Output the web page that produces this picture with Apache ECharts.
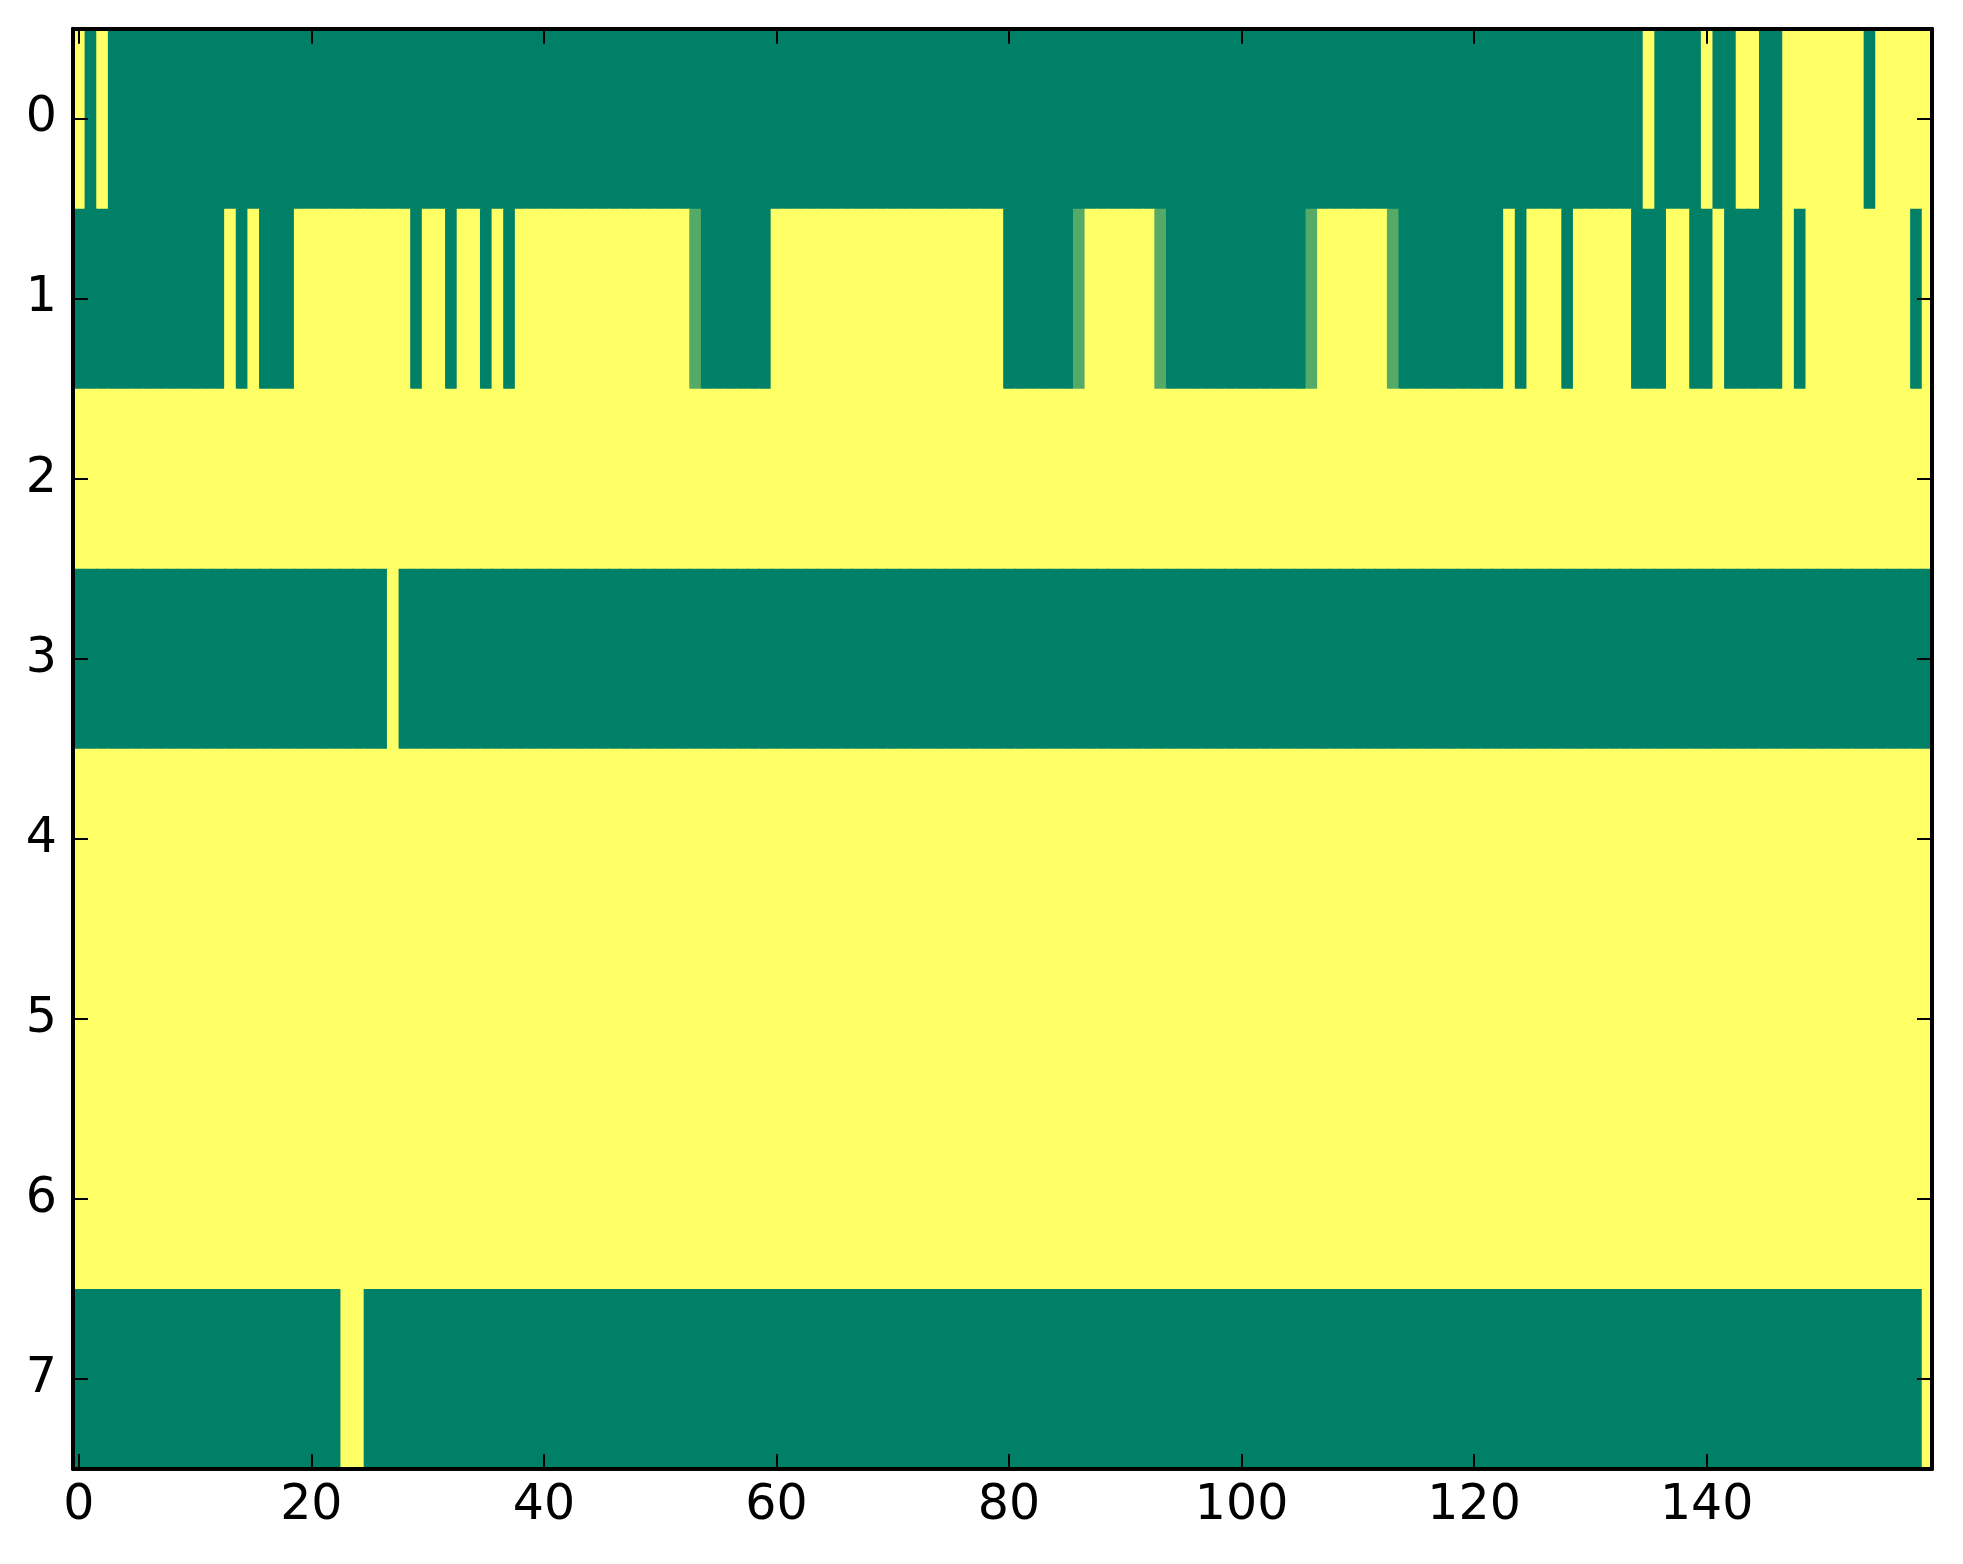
<!DOCTYPE html>
<html>
<head>
<meta charset="utf-8">
<script src="https://cdn.jsdelivr.net/npm/echarts@6/dist/echarts.min.js"></script>
<style>
html,body{margin:0;padding:0;background:#fff;}
#c{width:1963px;height:1564px;}
</style>
</head>
<body>
<div id="c"></div>
<script>
// Run-length encoded rows: [value, count] pairs (160 columns each)
const row0 = [[1,1],[0,1],[1,1],[0,132],[1,1],[0,4],[1,1],[0,2],[1,2],[0,2],[1,7],[0,1],[1,5]];
const row1 = [[0,13],[1,1],[0,1],[1,1],[0,3],[1,10],[0,1],[1,2],[0,1],[1,2],[0,1],[1,1],[0,1],
  [1,15],[0.33,1],[0,6],[1,20],[0,6],[0.33,1],[1,6],[0.33,1],[0,12],[0.33,1],[1,6],[0.33,1],
  [0,9],[1,1],[0,1],[1,3],[0,1],[1,5],[0,3],[1,2],[0,2],[1,1],[0,5],[1,1],[0,1],[1,9],[0,1],[1,1]];
const row2 = [[1,160]];
const row3 = [[0,27],[1,1],[0,132]];
const row4 = [[1,160]];
const row5 = [[1,160]];
const row6 = [[1,160]];
const row7 = [[0,23],[1,2],[0,134],[1,1]];
const rows = [row0,row1,row2,row3,row4,row5,row6,row7];
const xTicks = [0,20,40,60,80,100,120,140];
const yTicks = [0,1,2,3,4,5,6,7];

const data = [];
rows.forEach((runs, r) => {
  let c = 0;
  runs.forEach(([v, n]) => {
    for (let k = 0; k < n; k++) { data.push([c, r, v]); c++; }
  });
});

const FONT = 'DejaVu Sans';
const lineStyle = {color:'#000', width:4};
const tickStyle = {show:true, inside:true, length:15, lineStyle:{color:'#000', width:2}};

const chart = echarts.init(document.getElementById('c'), null, {renderer:'canvas'});
chart.setOption({
  backgroundColor:'#fff',
  animation:false,
  grid:{left:73, right:31, top:28.7, bottom:95, containLabel:false},
  visualMap:{show:false, type:'continuous', min:0, max:1, dimension:2, seriesIndex:0,
    inRange:{color:['#008066','#ffff66']}},
  xAxis:[
    {type:'value', position:'bottom', min:-0.5, max:159.38, z:10,
     axisLine:{show:true, onZero:false, lineStyle},
     axisTick:Object.assign({customValues:xTicks}, tickStyle),
     axisLabel:{customValues:xTicks, fontFamily:FONT, fontSize:49, color:'#000', margin:13},
     splitLine:{show:false}},
    {type:'value', position:'top', min:-0.5, max:159.38, z:10,
     axisLine:{show:true, onZero:false, lineStyle},
     axisTick:Object.assign({customValues:xTicks}, tickStyle),
     axisLabel:{show:false, customValues:xTicks},
     splitLine:{show:false}}
  ],
  yAxis:[
    {type:'value', position:'left', inverse:true, min:-0.5, max:7.5, z:10,
     axisLine:{show:true, onZero:false, lineStyle},
     axisTick:Object.assign({customValues:yTicks}, tickStyle),
     axisLabel:{customValues:yTicks, fontFamily:FONT, fontSize:49, color:'#000', margin:16},
     splitLine:{show:false}},
    {type:'value', position:'right', inverse:true, min:-0.5, max:7.5, z:10,
     axisLine:{show:true, onZero:false, lineStyle},
     axisTick:Object.assign({customValues:yTicks}, tickStyle),
     axisLabel:{show:false, customValues:yTicks},
     splitLine:{show:false}}
  ],
  series:[{
    type:'custom',
    xAxisIndex:0, yAxisIndex:0,
    data:data,
    encode:{x:0, y:1},
    z:1,
    renderItem:function(params, api){
      const x = api.value(0), y = api.value(1);
      const p0 = api.coord([x-0.5, y-0.5]);
      const p1 = api.coord([x+0.5, y+0.5]);
      // extend 1px right/down so neighbouring cells overlap (no anti-alias seams);
      // later cells are drawn on top, so boundaries stay in place
      const rect = {
        x: Math.min(p0[0],p1[0]), y: Math.min(p0[1],p1[1]),
        width: Math.abs(p1[0]-p0[0]) + 1, height: Math.abs(p1[1]-p0[1]) + 1
      };
      const cs = params.coordSys;
      const shape = echarts.graphic.clipRectByRect(rect, {x:cs.x, y:cs.y, width:cs.width, height:cs.height});
      if (!shape) return;
      return {type:'rect', shape:shape, style:{fill:api.visual('color')}};
    }
  }]
});
</script>
</body>
</html>
